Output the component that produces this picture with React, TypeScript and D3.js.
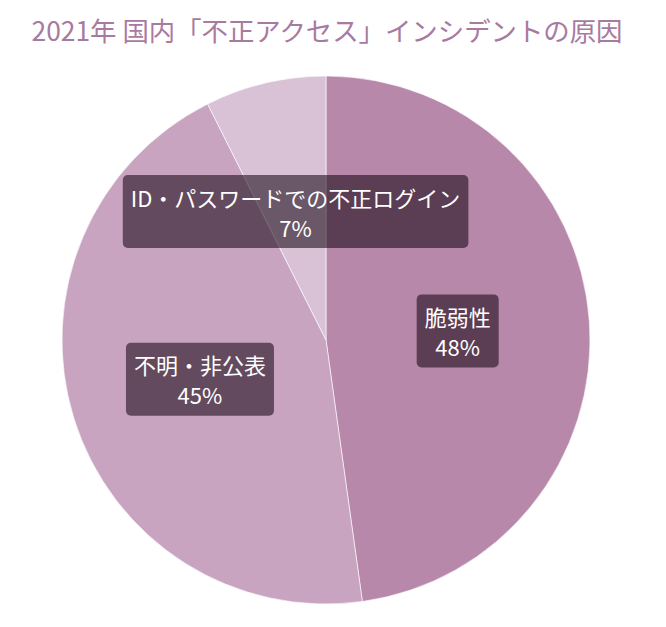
import React, { useRef, useEffect } from 'react'
import * as d3 from 'd3'

// causes, in drawing order (clockwise from 12 o'clock)
const categories = ['脆弱性', '不明・非公表', 'ID・パスワードでの不正ログイン']
// slice sizes as drawn in the picture
const sliceValues = [47.8, 44.8, 7.4]
// percentages printed on the labels
const labelPercents = [48, 45, 7]
const colors = ['#b888ab', '#c9a4c1', '#dac2d6']

const title = '2021年 国内「不正アクセス」インシデントの原因'

const App = () => {
	const svgRef = useRef<SVGSVGElement | null>(null)

	const svgWidth = 666,
		svgHeight = 627
	const cx = 326,
		cy = 340,
		radius = 264

	useEffect(() => {
		document.body.style.margin = '0'
		const svg = d3.select(svgRef.current)
		svg.selectAll('*').remove()

		svg
			.append('text')
			.attr('x', cx + 1)
			.attr('y', 41)
			.attr('text-anchor', 'middle')
			.style('font-family', '"Noto Sans CJK JP", "Noto Sans", sans-serif')
			.style('font-size', '26.4px')
			.style('fill', '#a87a9f')
			.text(title)

		const data = categories.map((c, i) => ({
			name: c,
			value: sliceValues[i],
			pct: labelPercents[i],
			color: colors[i],
		}))

		const pie = d3
			.pie<any>()
			.sort(null)
			.value((d) => d.value)
		const arc = d3.arc<any>().innerRadius(0).outerRadius(radius)
		const labelArc = d3
			.arc<any>()
			.innerRadius(radius / 2)
			.outerRadius(radius / 2)

		const g = svg.append('g').attr('transform', `translate(${cx},${cy})`)
		const arcs = pie(data)

		g.selectAll('path')
			.data(arcs)
			.enter()
			.append('path')
			.attr('d', arc)
			.attr('fill', (d) => d.data.color)
			.attr('stroke', 'rgba(255,255,255,0.6)')
			.attr('stroke-width', 1)

		arcs.forEach((a) => {
			const [lx, ly] = labelArc.centroid(a)
			const lg = g.append('g').attr('transform', `translate(${lx},${ly})`)
			const rect = lg.append('rect').attr('fill', 'rgba(15,0,12,0.55)').attr('rx', 5)
			const t = lg
				.append('text')
				.attr('text-anchor', 'middle')
				.style('font-family', '"Noto Sans CJK JP", "Noto Sans", sans-serif')
				.style('font-size', '22px')
				.style('fill', '#fff')
			t.append('tspan').attr('x', 0).attr('y', -15).attr('dominant-baseline', 'central').text(a.data.name)
			t.append('tspan').attr('x', 0).attr('y', 15).attr('dominant-baseline', 'central').text(`${a.data.pct}%`)
			const w = (t.node() as SVGTextElement).getBBox().width + 16
			rect
				.attr('x', -w / 2)
				.attr('y', -36.5)
				.attr('width', w)
				.attr('height', 73)
		})
	}, [])

	return <svg ref={svgRef} width={svgWidth} height={svgHeight} style={{ display: 'block' }}></svg>
}

export default App
